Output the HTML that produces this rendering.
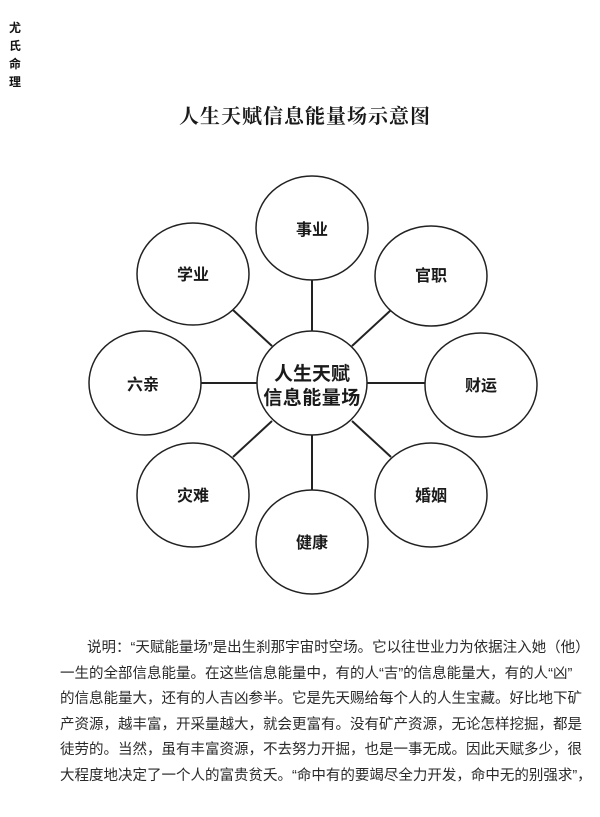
<!DOCTYPE html>
<html><head><meta charset="utf-8">
<style>
html,body{margin:0;padding:0;background:#fff;}
body{width:600px;height:817px;position:relative;overflow:hidden;font-family:"Liberation Sans","Noto Sans CJK SC",sans-serif;color:#1a1a1a;}
.side{position:absolute;left:9px;top:19px;font-size:12px;line-height:18px;width:13px;color:#111;font-weight:bold;}
.title{position:absolute;left:0;width:610px;top:100px;text-align:center;font-family:"Liberation Serif","Noto Serif CJK SC",serif;font-weight:bold;font-size:20px;letter-spacing:1px;}
.p{position:absolute;left:60px;width:495px;font-size:14.5px;line-height:18px;text-align:justify;text-align-last:justify;white-space:nowrap;color:#2a2a2a;}
</style></head><body>
<div class="side">尤<br>氏<br>命<br>理</div>
<div class="title">人生天赋信息能量场示意图</div>
<svg style="position:absolute;left:0;top:0" width="600" height="817">
<g stroke="#222" stroke-width="2" fill="none">
<line x1="312" y1="280" x2="312" y2="331"/>
<line x1="312" y1="435" x2="312" y2="490"/>
<line x1="201" y1="383" x2="257" y2="383"/>
<line x1="367" y1="383" x2="425" y2="383"/>
<line x1="233" y1="310" x2="272" y2="346"/>
<line x1="391" y1="310" x2="352" y2="346"/>
<line x1="233" y1="457" x2="272" y2="421"/>
<line x1="391" y1="457" x2="352" y2="421"/>
</g>
<g stroke="#222" stroke-width="1.5" fill="#fff">
<ellipse cx="312" cy="383" rx="55" ry="52"/>
<ellipse cx="312" cy="228" rx="56" ry="52"/>
<ellipse cx="431" cy="276" rx="56" ry="50"/>
<ellipse cx="193" cy="274" rx="56" ry="51"/>
<ellipse cx="145" cy="383" rx="56" ry="52"/>
<ellipse cx="481" cy="385" rx="56" ry="52"/>
<ellipse cx="193" cy="495" rx="56" ry="52"/>
<ellipse cx="431" cy="495" rx="56" ry="52"/>
<ellipse cx="312" cy="542" rx="56" ry="52"/>
</g>
<g font-family="Liberation Sans, Noto Sans CJK SC, sans-serif" font-size="16" fill="#1a1a1a" text-anchor="middle" font-weight="bold">
<text x="312" y="235">事业</text>
<text x="431" y="281">官职</text>
<text x="193" y="280">学业</text>
<text x="143" y="390">六亲</text>
<text x="481" y="391">财运</text>
<text x="193" y="501">灾难</text>
<text x="431" y="501">婚姻</text>
<text x="312" y="548">健康</text>
<text x="312" y="380" font-size="19">人生天赋</text>
<text x="312" y="404" font-size="19" letter-spacing="0.5">信息能量场</text>
</g>
</svg>
<div class="p" style="top:639px;left:87px;width:468px;">说明：“天赋能量场”是出生刹那宇宙时空场。它以往世业力为依据注入她（他）</div>
<div class="p" style="top:665px;">一生的全部信息能量。在这些信息能量中，有的人“吉”的信息能量大，有的人“凶”</div>
<div class="p" style="top:690px;">的信息能量大，还有的人吉凶参半。它是先天赐给每个人的人生宝藏。好比地下矿</div>
<div class="p" style="top:716px;">产资源，越丰富，开采量越大，就会更富有。没有矿产资源，无论怎样挖掘，都是</div>
<div class="p" style="top:741px;">徒劳的。当然，虽有丰富资源，不去努力开掘，也是一事无成。因此天赋多少，很</div>
<div class="p" style="top:767px;">大程度地决定了一个人的富贵贫夭。“命中有的要竭尽全力开发，命中无的别强求”，</div>
</body></html>
